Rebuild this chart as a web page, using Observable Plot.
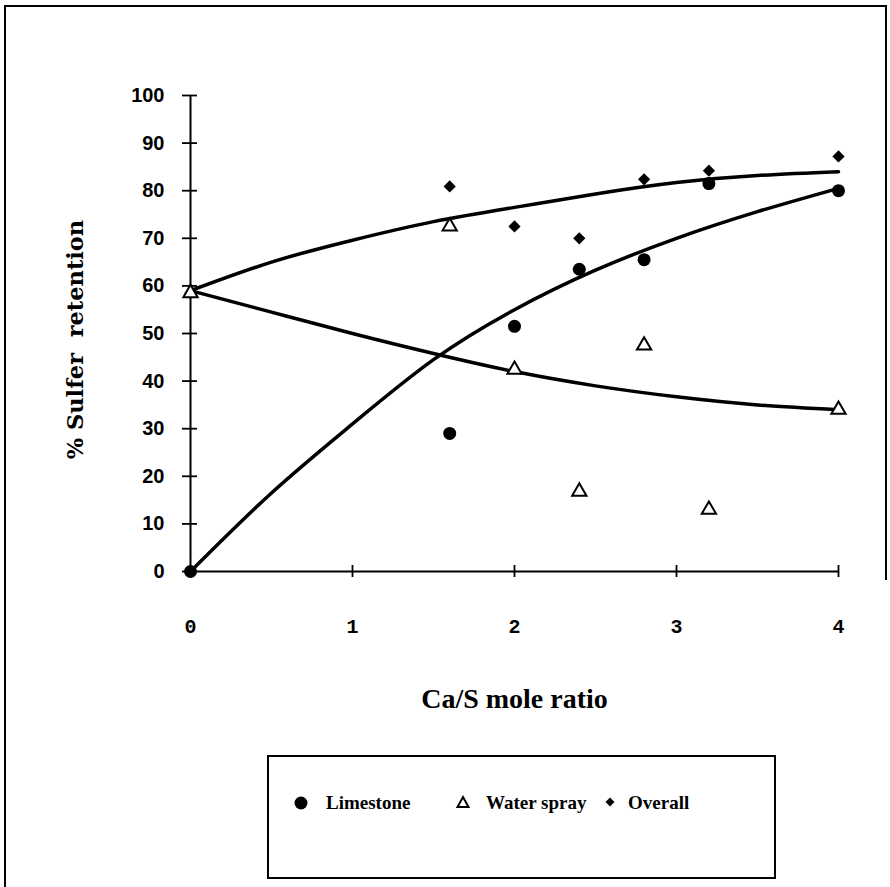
<!DOCTYPE html>
<html><head><meta charset="utf-8">
<script src="https://cdn.jsdelivr.net/npm/d3@7"></script>
<script src="https://cdn.jsdelivr.net/npm/@observablehq/plot@0.6"></script>
<style>
body{margin:0;background:#fff;}
#wrap{position:relative;width:890px;height:887px;overflow:hidden;background:#fff;}
#wrap > svg{position:absolute;left:0;top:0;}
.ln{position:absolute;background:#000;}
#legend{position:absolute;left:267px;top:755px;width:505px;height:120px;border:2px solid #000;font-family:"Liberation Serif",serif;font-weight:bold;font-size:19px;}
#legend svg{position:absolute;top:37px;}
#legend span{position:absolute;top:34px;white-space:nowrap;line-height:24px;}
</style></head><body>
<div id="wrap"></div>
<script>
// Measured points
const limestoneX = [0, 1.6, 2, 2.4, 2.8, 3.2, 4];
const limestoneY = [0, 29, 51.5, 63.5, 65.5, 81.5, 80];
const waterX = [0, 1.6, 2, 2.4, 2.8, 3.2, 4];
const waterY = [58.5, 72.5, 42.4, 16.8, 47.5, 13, 34];
const overallX = [0, 1.6, 2, 2.4, 2.8, 3.2, 4];
const overallY = [58.5, 80.9, 72.5, 70, 82.4, 84.2, 87.2];
// Fitted trend curves
const fitX = [0, 0.5, 1, 1.5, 2, 2.5, 3, 3.5, 4];
const limestoneFit = [0, 16.5, 31, 44.5, 55, 63.3, 70, 75.6, 80.5];
const waterFit = [59, 54.5, 50, 45.8, 42, 39, 36.7, 35, 34];
const overallFit = [59, 65, 69.6, 73.5, 76.5, 79.3, 81.7, 83.2, 84];
// Ticks and labels
const xTicks = [0, 1, 2, 3, 4];
const yTicks = [0, 10, 20, 30, 40, 50, 60, 70, 80, 90, 100];
const xTitle = "Ca/S mole ratio";
const yTitle = "% Sulfer\u00a0\u00a0retention";
const seriesNames = ["Limestone", "Water spray", "Overall"];

const pts = (xs, ys) => xs.map((x, i) => ({x, y: ys[i]}));

const chart = Plot.plot({
  width: 890, height: 887,
  marginLeft: 190, marginRight: 52, marginTop: 95, marginBottom: 316,
  x: {domain: [0, 4]},
  y: {domain: [0, 100]},
  style: {background: "transparent", color: "#000", overflow: "visible"},
  marks: [
    Plot.ruleX([0], {y1: 0, y2: 100, strokeWidth: 2}),
    Plot.ruleY([0], {x1: 0, x2: 4, strokeWidth: 2}),
    Plot.axisY({ticks: yTicks, tickSize: 8, tickPadding: 18, strokeWidth: 1.8, label: null,
      fontSize: 20, fontWeight: "bold", fontFamily: "Liberation Sans"}),
    Plot.axisY({ticks: yTicks, tickSize: -7, strokeWidth: 1.8, label: null, tickFormat: () => ""}),
    Plot.axisX({ticks: xTicks, tickSize: 6, tickPadding: 41, strokeWidth: 1.8, label: null,
      tickFormat: d => String(d), fontSize: 20, fontWeight: "bold", fontFamily: "Liberation Mono"}),
    Plot.axisX({ticks: xTicks, tickSize: -6, strokeWidth: 1.8, label: null, tickFormat: () => ""}),
    Plot.line(pts(fitX, overallFit), {x: "x", y: "y", curve: "natural", strokeWidth: 3.5}),
    Plot.line(pts(fitX, limestoneFit), {x: "x", y: "y", curve: "natural", strokeWidth: 3.5}),
    Plot.line(pts(fitX, waterFit), {x: "x", y: "y", curve: "natural", strokeWidth: 3.5}),
    Plot.dot(pts(overallX, overallY), {x: "x", y: "y", symbol: "diamond2", r: 5.5, fill: "#000"}),
    Plot.dot(pts(limestoneX, limestoneY), {x: "x", y: "y", r: 6.5, fill: "#000"}),
    Plot.dot(pts(waterX, waterY), {x: "x", y: "y", symbol: "triangle", r: 5.3, fill: "#fff", stroke: "#000", strokeWidth: 2}),
    Plot.text([yTitle], {frameAnchor: "left", dx: -115, dy: 6, rotate: -90, textAnchor: "middle", lineAnchor: "middle",
      fontSize: 22.5, fontWeight: "bold", fontFamily: "DejaVu Serif"}),
    Plot.text([xTitle], {frameAnchor: "bottom", dy: 128, textAnchor: "middle", lineAnchor: "middle",
      fontSize: 28, fontWeight: "bold", fontFamily: "Liberation Serif"})
  ]
});

const wrap = document.getElementById("wrap");
wrap.appendChild(chart);

// Outer frame of the scanned figure
[[4, 5, 882, 2], [4, 5, 2, 882], [885, 5, 2, 575]].forEach(([l, t, w, h]) => {
  const d = document.createElement("div");
  d.className = "ln";
  Object.assign(d.style, {left: l + "px", top: t + "px", width: w + "px", height: h + "px"});
  wrap.appendChild(d);
});

// Legend
const legend = document.createElement("div");
legend.id = "legend";
const sym = {
  "Limestone": '<svg width="18" height="18"><circle cx="9" cy="9" r="6.5" fill="#000"/></svg>',
  "Water spray": '<svg width="18" height="18"><path d="M9,3L14.5,13L3.5,13Z" fill="#fff" stroke="#000" stroke-width="2"/></svg>',
  "Overall": '<svg width="18" height="18"><path d="M9,3.5L13.5,8L9,12.5L4.5,8Z" fill="#000"/></svg>'
};
const symLeft = [23, 185, 332];
const textLeft = [57, 217, 359];
seriesNames.forEach((name, i) => {
  legend.insertAdjacentHTML("beforeend", sym[name].replace("<svg", '<svg style="left:' + symLeft[i] + 'px"'));
  const s = document.createElement("span");
  s.style.left = textLeft[i] + "px";
  s.textContent = name;
  legend.appendChild(s);
});
wrap.appendChild(legend);
</script>
</body></html>
